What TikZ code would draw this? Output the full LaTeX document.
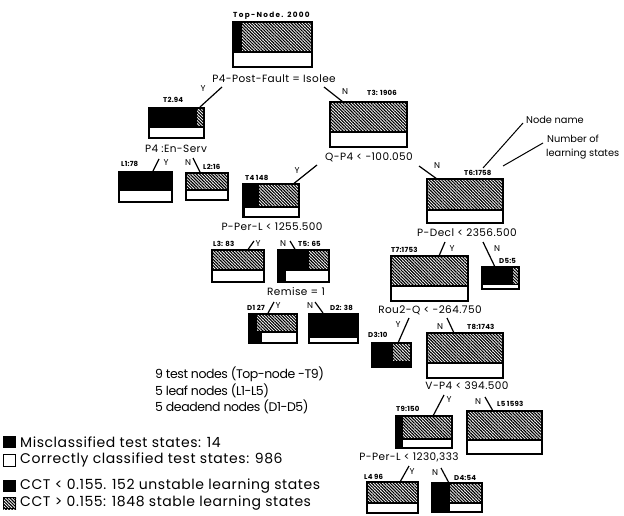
\documentclass[tikz,border=0pt]{standalone}
\usepackage{fontspec}
\setmainfont{Poppins}
\usetikzlibrary{patterns.meta,fit}

\newcommand{\splitfont}{\fontsize{10.5}{11}\selectfont\addfontfeatures{LetterSpace=4}}
\newcommand{\tagfont}{\fontsize{7}{8}\selectfont\bfseries\addfontfeatures{LetterSpace=3}}
\newcommand{\widetagfont}{\fontsize{7.3}{8}\selectfont\bfseries\addfontfeatures{LetterSpace=18}}
\newcommand{\legendfont}{\fontsize{14}{15}\selectfont\addfontfeatures{LetterSpace=4}}
\newcommand{\countfont}{\fontsize{12.5}{13}\selectfont\addfontfeatures{LetterSpace=-3.5}}

\tikzset{
  hatch/.style={pattern={Lines[angle=-45,distance=2.2pt,line width=1.15pt]}},
  boxline/.style={line width=1.7pt},
  conn/.style={line width=1.2pt},
  split/.style={font=\splitfont, inner sep=0pt},
  tag/.style={font=\tagfont, inner sep=0pt, anchor=west},
  yn/.style={font=\fontsize{8.5}{9}\selectfont, inner sep=0pt},
  note/.style={font=\fontsize{9.8}{10}\selectfont, inner sep=0pt, anchor=west},
  count/.style={font=\countfont, inner sep=0pt, anchor=west},
  legend/.style={font=\legendfont, inner sep=0pt, anchor=west},
  key/.style={line width=1pt}
}

% #1 name, (#2,#3)-(#4,#5) corners, #6 divider height,
% #7 right end of the unstable (black) part, #8 right end of the misclassified part
\newcommand{\treebox}[8]{%
  \fill[white] (#2,#3) rectangle (#4,#5);
  \fill[hatch] (#7,#3) rectangle (#4,#6);
  \fill[black] (#2,#3) rectangle (#7,#6);
  \fill[black] (#2,#6) rectangle (#8,#5);
  \draw[boxline] (#2,#3) rectangle (#4,#5);
  \draw[boxline] (#2,#6) -- (#4,#6);
  \path (#2,#3) coordinate (#1-nw) (#4,#5) coordinate (#1-se);
  \node[fit=(#1-nw)(#1-se), inner sep=0pt] (#1) {};
}

\begin{document}
\begin{tikzpicture}[x=1pt,y=-1pt]
\useasboundingbox (0,0) rectangle (624,516);

% tree boxes
\treebox{top}{233}{22}{312}{67}{52}{242}{233}
\treebox{t2}{149}{108}{204}{138}{127}{197}{149}
\treebox{t3}{330}{102}{407}{147}{132}{330}{330}
\treebox{l1}{119}{172}{172}{202}{190}{172}{119}
\treebox{l2}{186}{173}{228}{200}{190}{186}{186}
\treebox{t4}{243}{184}{299}{217}{207}{259}{245}
\treebox{l3}{212}{250}{264}{282}{270}{212}{212}
\treebox{t5}{278}{250}{329}{282}{270}{309}{286}
\treebox{d1}{249}{314}{297}{343}{332}{257}{262}
\treebox{d2}{309}{314}{358}{343}{337.5}{358}{309}
\treebox{t6}{427}{179}{503}{223}{210}{427}{427}
\treebox{t7}{391}{256}{468}{301}{286}{391}{391}
\treebox{d5}{482}{267}{519}{289}{284.5}{513}{482}
\treebox{d3}{372}{343}{411}{367}{362}{393}{411}
\treebox{t8}{427}{333}{503}{378}{363}{427}{427}
\treebox{t9}{396}{416}{452}{448}{439}{403}{403}
\treebox{l5}{467}{411}{542}{454}{440}{467}{467}
\treebox{l4}{367}{482}{418}{513}{503}{367}{367}
\treebox{d4}{432}{483}{482}{512}{503}{450}{450}

% node names and learning-state counts
\node[tag, font=\widetagfont] (ntop) at (233,16) {Top-Node. 2000};
\node[tag] (nt2) at (163,100) {T2.94};
\node[tag] (nt3) at (367,93) {T3: 1906};
\node[tag] (nl1) at (121,164) {L1:78};
\node[tag] (nl2) at (203,167) {L2:16};
\node[tag] (nt4) at (245,178) {T4 148};
\node[tag] (nl3) at (213,244) {L3: 83};
\node[tag] (nt5) at (298,244) {T5: 65};
\node[tag] (nd1) at (247,308) {D1 27};
\node[tag] (nd2) at (330,308) {D2: 38};
\node[tag] (nt6) at (464,173) {T6:1758};
\node[tag] (nt7) at (391,250) {T7:1753};
\node[tag] (nd5) at (499,261) {D5:5};
\node[tag] (nd3) at (368,335) {D3:10};
\node[tag] (nt8) at (467,327) {T8:1743};
\node[tag] (nt9) at (396,409) {T9:150};
\node[tag] (nl5) at (497,404) {L5 1593};
\node[tag] (nl4) at (364,477) {L4 96};
\node[tag] (nd4) at (454,478) {D4:54};

% split tests
\node[split] (stop) at (274,79) {P4-Post-Fault = Isolee};
\node[split] (st2) at (176,149) {P4 :En-Serv};
\node[split] (st3) at (369,157) {Q-P4 < -100.050};
\node[split] (st4) at (272,227) {P-Per-L < 1255.500};
\node[split] (st5) at (296,292) {Remise = 1};
\node[split] (st6) at (467,233) {P-Decl < 2356.500};
\node[split] (st7) at (430,310) {Rou2-Q < -264.750};
\node[split] (st8) at (467,386) {V-P4 < 394.500};
\node[split] (st9) at (409,457) {P-Per-L < 1230,333};

% branch ends
\coordinate (topYa) at (222,87);  \coordinate (topYb) at (200,107);
\coordinate (topNa) at (324,87);  \coordinate (topNb) at (343,102);
\coordinate (t2Ya) at (159,159);  \coordinate (t2Yb) at (153,171);
\coordinate (t2Na) at (193,158);  \coordinate (t2Nb) at (200,172);
\coordinate (t3Ya) at (317,165);  \coordinate (t3Yb) at (292,185);
\coordinate (t3Na) at (419,166);  \coordinate (t3Nb) at (437,179);
\coordinate (t4Ya) at (254,241);  \coordinate (t4Yb) at (247,251);
\coordinate (t4Na) at (290,241);  \coordinate (t4Nb) at (296,251);
\coordinate (t5Ya) at (274,302);  \coordinate (t5Yb) at (267,315);
\coordinate (t5Na) at (315,302);  \coordinate (t5Nb) at (323,313);
\coordinate (t6Ya) at (445,242);  \coordinate (t6Yb) at (439,256);
\coordinate (t6Na) at (483,242);  \coordinate (t6Nb) at (495,267);
\coordinate (t7Ya) at (409,318);  \coordinate (t7Yb) at (398,343);
\coordinate (t7Na) at (447,318);  \coordinate (t7Nb) at (454,333);
\coordinate (t8Ya) at (444,395);  \coordinate (t8Yb) at (433,416);
\coordinate (t8Na) at (485,397);  \coordinate (t8Nb) at (493,411);
\coordinate (t9Ya) at (409,466);  \coordinate (t9Yb) at (400,482);
\coordinate (t9Na) at (441,468);  \coordinate (t9Nb) at (449,483);

\foreach \s in {top,t2,t3,t4,t5,t6,t7,t8,t9}{
  \draw[conn] (\s Ya) -- (\s Yb);
  \draw[conn] (\s Na) -- (\s Nb);
}

% branch letters
\node[yn] (ytop) at (203,89) {Y};  \node[yn] (ntopN) at (345,92) {N};
\node[yn] (yt2) at (166,163) {Y};  \node[yn] (nt2N) at (188,163) {N};
\node[yn] (yt3) at (297,171) {Y};  \node[yn] (nt3N) at (437,166) {N};
\node[yn] (yt4) at (258,244) {Y};  \node[yn] (nt4N) at (283,244) {N};
\node[yn] (yt5) at (278,306) {Y};  \node[yn] (nt5N) at (310,306) {N};
\node[yn] (yt6) at (452,249) {Y};  \node[yn] (nt6N) at (497,249) {N};
\node[yn] (yt7) at (398,325) {Y};  \node[yn] (nt7N) at (440,327) {N};
\node[yn] (yt8) at (449,400) {Y};  \node[yn] (nt8N) at (478,402) {N};
\node[yn] (yt9) at (412,472) {Y};  \node[yn] (nt9N) at (435,473) {N};

% annotation of a node label
\node[note] (nname) at (526,120) {Node name};
\node[note] (ncount1) at (547,139) {Number of};
\node[note] (ncount2) at (546,154) {learning states};
\coordinate (nnameStart) at (523,123);
\coordinate (nnameEnd) at (483,168);
\coordinate (ncountStart) at (543,143);
\coordinate (ncountEnd) at (503,166);
\draw[line width=1pt] (nnameStart) -- (nnameEnd);
\draw[line width=1pt] (ncountStart) -- (ncountEnd);

% node counts
\node[count] (cnt1) at (155,374) {9 test nodes (Top-node -T9)};
\node[count] (cnt2) at (155,391) {5 leaf nodes (L1-L5)};
\node[count] (cnt3) at (155,407) {5 deadend nodes (D1-D5)};

% legend
\fill[black] (3,436) rectangle (16,448);
\node[legend] (lg1) at (20,442) {Misclassified test states: 14};
\draw[key] (3.5,454) rectangle (15.5,466);
\node[legend] (lg2) at (20,460) {Correctly classified test states: 986};
\fill[black] (3,480) rectangle (16,492);
\node[legend] (lg3) at (20,486) {CCT < 0.155. 152 unstable learning states};
\fill[hatch] (3,497) rectangle (16,509);
\draw[key] (3.5,497.5) rectangle (15.5,508.5);
\node[legend] (lg4) at (20,503) {CCT > 0.155: 1848 stable learning states};
\end{tikzpicture}
\end{document}
